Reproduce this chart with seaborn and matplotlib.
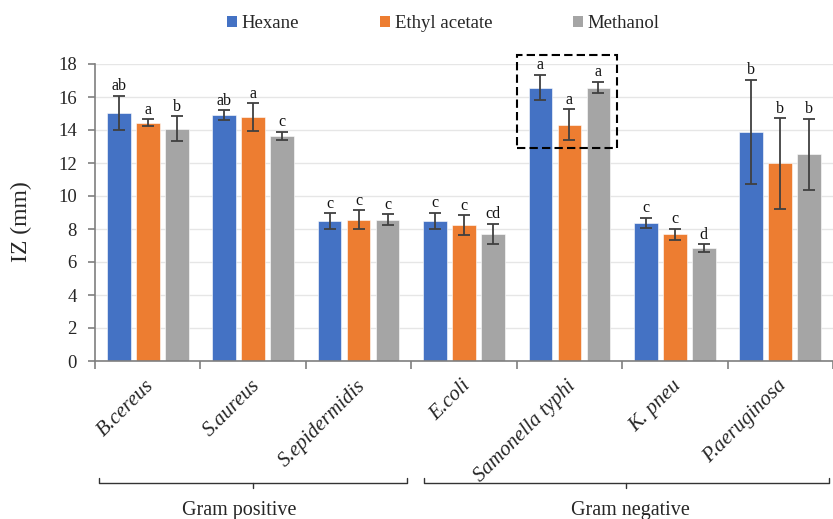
import matplotlib
matplotlib.use("Agg")
import matplotlib.pyplot as plt
import matplotlib.transforms as mtransforms
from matplotlib.patches import Rectangle, Patch
import seaborn as sns
import pandas as pd
import numpy as np

# data
bacteria = ["B.cereus", "S.aureus", "S.epidermidis", "E.coli",
            "Samonella typhi", "K. pneu", "P.aeruginosa"]
solvents = ["Hexane", "Ethyl acetate", "Methanol"]

hexane = [15.05, 14.91, 8.47, 8.50, 16.57, 8.38, 13.90]
hexane_err = [1.03, 0.30, 0.48, 0.50, 0.78, 0.30, 3.15]
ethyl = [14.44, 14.79, 8.56, 8.22, 14.32, 7.68, 11.98]
ethyl_err = [0.20, 0.85, 0.57, 0.60, 0.95, 0.35, 2.75]
methanol = [14.08, 13.65, 8.56, 7.70, 16.57, 6.83, 12.53]
methanol_err = [0.75, 0.25, 0.32, 0.63, 0.35, 0.24, 2.15]

hexane_lab = ["ab", "ab", "c", "c", "a", "c", "b"]
ethyl_lab = ["a", "a", "c", "c", "a", "c", "b"]
methanol_lab = ["b", "c", "c", "cd", "a", "d", "b"]

colors = ["#4472C4", "#ED7D31", "#A5A5A5"]

df = pd.DataFrame({
    "Bacteria": bacteria * 3,
    "Solvent": np.repeat(solvents, len(bacteria)),
    "IZ": hexane + ethyl + methanol,
})
errs = [hexane_err, ethyl_err, methanol_err]
labs = [hexane_lab, ethyl_lab, methanol_lab]

sns.set_style("white")
plt.rcParams["font.family"] = ["Liberation Serif", "DejaVu Serif"]

fig = plt.figure(figsize=(8.33, 5.19), dpi=100)
ax = fig.add_axes([95 / 833, 158 / 519, 738 / 833, 297 / 519])

sns.barplot(data=df, x="Bacteria", y="IZ", hue="Solvent", order=bacteria,
            hue_order=solvents, palette=colors, saturation=1, width=0.825,
            gap=0.185, errorbar=None, legend=False, ax=ax,
            edgecolor="white", linewidth=0.4)

# error bars and letters from the bars seaborn drew
bar_groups = list(ax.containers)
for k, cont in enumerate(bar_groups):
    bars = sorted(cont.patches, key=lambda p: p.get_x())
    xs = [b.get_x() + b.get_width() / 2 for b in bars]
    hs = [b.get_height() for b in bars]
    ax.errorbar(xs, hs, yerr=errs[k], fmt="none", ecolor="#404040",
                elinewidth=1.3, capsize=4, capthick=1.3, zorder=3)
    for x, h, e, t in zip(xs, hs, errs[k], labs[k]):
        ax.annotate(t, (x, h + e), xytext=(0, 1), textcoords="offset points",
                    ha="center", va="bottom", fontsize=11.5, color="#111111")

ax.set_xlim(-0.5, 6.38)
ax.set_ylim(0, 18)
ax.set_yticks(range(0, 19, 2))
ax.tick_params(axis="y", labelsize=13.5, length=5, width=1.2,
               color="#7f7f7f", left=True, pad=8)
ax.yaxis.grid(True, color="#e6e6e6", lw=1)
ax.set_axisbelow(True)

ax.set_xticks(range(len(bacteria)))
ax.set_xticklabels(bacteria, rotation=45, ha="right", va="center",
                   rotation_mode="anchor", fontsize=15, style="italic")
ax.tick_params(axis="x", which="major", length=0, pad=16)
shift = mtransforms.ScaledTranslation(4 / 100, 0, fig.dpi_scale_trans)
for lab in ax.get_xticklabels():
    lab.set_transform(lab.get_transform() + shift)
ax.set_xticks(np.arange(-0.5, 7, 1), minor=True)
ax.tick_params(axis="x", which="minor", length=6, width=1.2,
               color="#7f7f7f", bottom=True)
ax.set_xlabel("")

for side in ["top", "right"]:
    ax.spines[side].set_visible(False)
for side in ["left", "bottom"]:
    ax.spines[side].set_color("#7f7f7f")
    ax.spines[side].set_linewidth(1.2)

ax.set_ylabel("IZ (mm)", fontsize=17)
ax.yaxis.set_label_coords(-0.085, 0.468)

# dashed box around Samonella typhi
ax.add_patch(Rectangle((3.498, 12.9), 0.951, 5.65, fill=False,
                       ls=(0, (4, 2)), lw=1.5, ec="black", clip_on=False,
                       zorder=4))

# group brackets below the tick labels
trans = mtransforms.blended_transform_factory(ax.transData, fig.transFigure)
y0, yup, ydn = 36 / 519, 41 / 519, 31 / 519
for xa, xb, xm, name, xt in [(-0.463, 2.46, 1.0, "Gram positive", 0.87),
                             (2.62, 6.46, 4.54, "Gram negative", 4.58)]:
    ax.plot([xa, xa, xb, xb], [yup, y0, y0, yup], color="#333333", lw=1,
            transform=trans, clip_on=False)
    ax.plot([xm, xm], [y0, ydn], color="#333333", lw=1,
            transform=trans, clip_on=False)
    ax.text(xt, 9 / 519, name, transform=trans, ha="center", va="center",
            fontsize=14.5)

handles = [Patch(facecolor=c, edgecolor="none") for c in colors]
fig.legend(handles, solvents, loc="center", bbox_to_anchor=(0.532, 0.955),
           ncol=3, frameon=False, fontsize=13.5, handlelength=0.55,
           handleheight=0.55, handletextpad=0.25, columnspacing=4.3)

fig.savefig("out.png", dpi=100)
